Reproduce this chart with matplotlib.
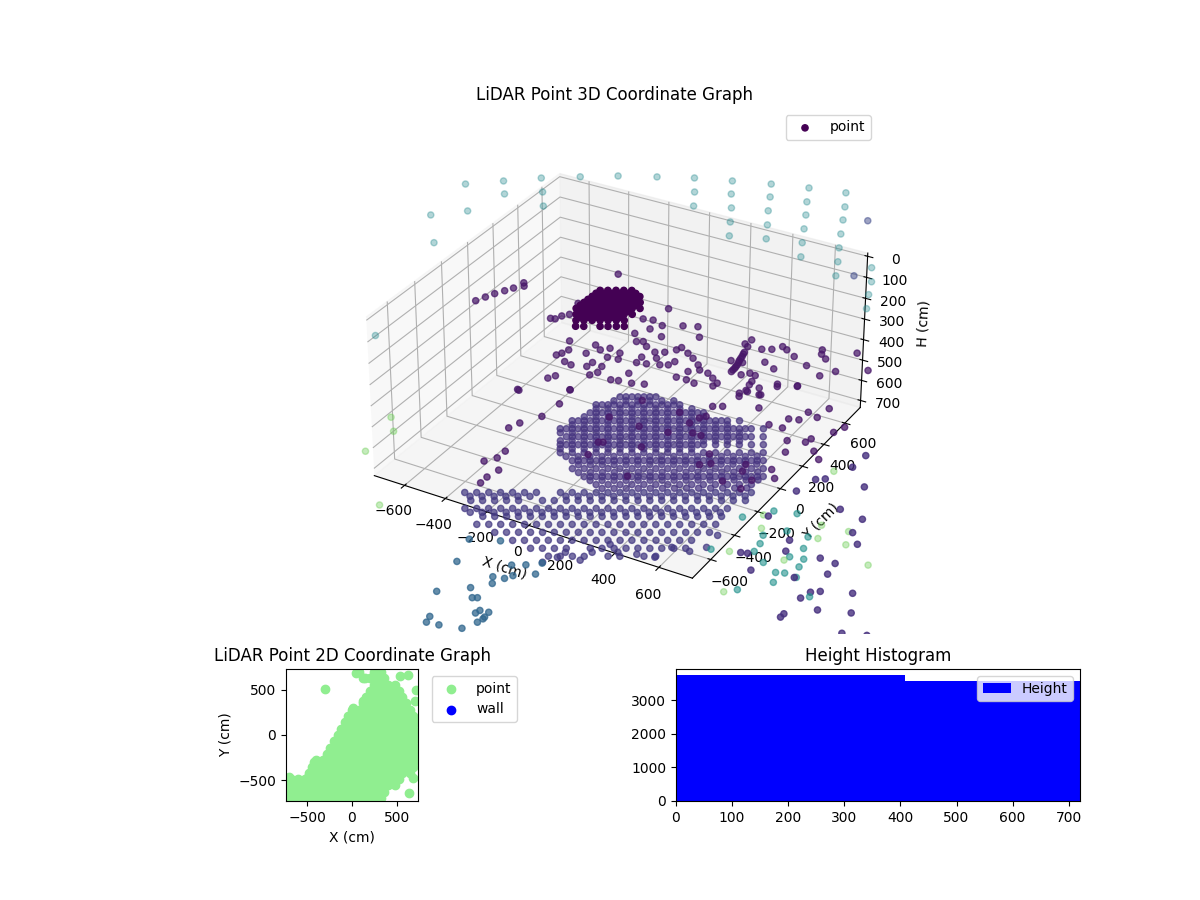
import numpy as np
import matplotlib
matplotlib.use("Agg")
import matplotlib.pyplot as plt

# --- 3D LiDAR points, (x, y) in cm, one list per group of similar height / tone
cluster_xy = [(-346,417),(-318,433),(-289,450),(-261,466),(-232,482),
 (-348,356),(-320,372),(-291,388),(-263,405),(-234,421),(-206,437),(-177,453),
 (-351,295),(-322,312),(-294,328),(-265,344),(-237,361),(-208,377),(-180,393),(-151,410),
 (-353,235),(-325,251),(-296,268),(-268,284),(-240,300),(-211,317),(-183,333),(-154,349),(-126,365),
 (-328,192),(-300,208),(-271,225),(-243,241),(-215,257),(-186,274),(-158,290),(-129,306),
 (-302,148),(-274,164),(-245,181),(-217,197),(-189,213),(-160,230),(-132,246),
 (-278,105),(-249,121),(-192,154),(-164,170),(-135,187),(-107,203),
 (-348,387),(-319,403),(-291,419),(-262,436),(-234,452),(-205,468),
 (-350,325),(-322,342),(-293,358),(-265,374),(-236,391),(-208,407),(-179,423),
 (-352,265),(-324,281),(-295,298),(-267,314),(-239,330),(-210,347),(-182,363),(-153,379),
 (-327,221),(-299,238),(-270,254),(-241,270),(-213,286),(-184,303),(-156,319),
 (-301,178),(-273,194),(-244,211),(-216,227),(-188,243),(-159,260)]

scatter_xy = [(-487,810),(-150,650),(-797,541),(-889,304),(-871,352),(-853,397),(-830,440),(-810,479),(-780,516),(-536,331),(-517,337),(-506,372),(-485,400),(-503,500),(-26,551),(31,576),(79,501),(-102,510),(-59,427),(-132,460),(-199,520),(-158,532),(-168,396),(-104,354),(-128,340),(-72,325),(16,321),(-19,301),(48,362),(57,389),(102,361),(140,335),(89,274),(79,238),(49,221),(-2,201),(-42,190),(-46,239),(11,261),(184,298),(209,265),(174,231),(200,170),(155,168),(240,161),(250,259),(286,234),(320,208),(316,180),(348,541),(384,561),(412,603),(439,588),(490,554),(567,513),(565,660),(578,627),(610,600),(700,707),(690,529),(650,466),(609,350),(533,322),(464,423),(408,453),(800,602),(-369,207),(-356,80),(-344,104),(-334,141),(-258,153),(-259,231),(-222,206),(-194,237),(-139,223),(-120,176),(-166,168),(-299,51),(-263,41),(-197,101),(-201,62),(-148,92),(-138,42),(-156,9),(-289,-97),(-272,-66),(-339,-237),(-163,-132),(-63,18),(-33,28),(-26,99),(23,36),(71,55),(326,318),(325,333),(325,348),(323,362),(321,377),(317,397),(312,412),(309,430),(306,448),(301,468),(298,483),(288,531),(276,589),(268,546),(283,396),(331,405),(372,315),(397,344),(424,338),(434,290),(438,261),(447,215),(434,183),(484,258),(514,214)]

scatter2_xy = [(-347,-234),(-165,-132),(-144,-247),(-154,-364),(-221,-503),(-203,-450),(78,-236),(214,-238),(127,-60),(334,-221),(298,-367),(148,-518),(136,-420),(152,-411),(420,-177),(457,-178),(405,-41),(388,-65),(373,-118),(300,-66),(391,39),(425,59),(445,160),(456,210),(508,211),(541,305),(610,346),(555,120),(648,27),(705,31),(695,104),(733,118),(739,188),(787,170),(798,254),(893,101),(913,157),(831,-19),(839,14),(889,-62),(932,-107),(797,-123),(764,-44),(554,-368),(550,-281),(588,-339),(707,-278),(718,-327),(809,-261),(848,-312),(779,-367),(686,-428),(771,-440),(357,-577),(-90,-785),(-142,-713),(-141,-656),(-173,-758),(-101,-896),(-102,-849)]

scatter_outer_xy = [(960,-350),(986,-241),(1016,-219),(1069,-92),(1076,9),(1169,-196),(1159,-381),(1260,-401),(948,-556),(1090,-661),(1111,-732),(1240,-710),(1302,-714),(1268,-500),(1317,-561),(1309,-789),(1058,-904),(1335,-900),(1307,-922),(1293,-972),(1440,-853),(1378,-1008),(1489,-965),(1286,-1088),(1285,-1112),(1515,-1092),(1463,-1156),(1596,-1060),(1215,-868),(973,-822),(997,-814)]

dome_xy = [(-182,298),(-139,323),(-96,348),(-53,373),(-161,311),(-118,336),(-75,360),(-188,258),(-145,283),(-102,307),(-59,332),(-16,357),(27,382),(-236,193),(-193,218),(-150,242),(-107,267),(-64,292),(-22,316),(21,341),(64,366),(-214,205),(-171,230),(-129,255),(-86,279),(-43,304),(0,329),(43,353),(-219,165),(-177,190),(-134,215),(-91,239),(-49,264),(-6,288),(37,313),(80,338),(123,363),(-203,138),(-160,162),(-118,187),(-75,211),(-33,236),(10,261),(52,285),(95,310),(138,334),(180,359),(-224,125),(-182,150),(-139,175),(-97,199),(-54,224),(-11,248),(31,273),(74,298),(116,322),(159,347),(-229,86),(-187,110),(-144,135),(-102,159),(-59,184),(-17,208),(25,233),(68,257),(110,282),(153,306),(195,331),(-256,34),(-213,59),(-171,83),(-128,107),(-86,132),(-44,156),(-1,181),(41,205),(83,230),(126,254),(168,279),(211,303),(253,328),(295,352),(338,377),(-234,46),(-192,71),(-150,95),(-107,120),(-65,144),(-23,169),(20,193),(62,218),(105,242),(147,267),(189,291),(232,315),(274,340),(-239,7),(-197,31),(-155,56),(-113,80),(-70,105),(-28,129),(14,153),(56,178),(99,202),(141,227),(183,251),(226,276),(268,300),(310,324),(-266,-44),(-223,-20),(-181,4),(-139,29),(-97,53),(-55,78),(-12,102),(30,126),(72,151),(114,175),(156,199),(198,224),(241,248),(283,272),(325,297),(367,321),(409,345),(452,370),(-244,-32),(-202,-8),(-160,17),(-118,41),(-76,65),(-34,90),(9,114),(51,138),(93,163),(135,187),(177,211),(220,236),(262,260),(304,285),(346,309),(388,333),(-249,-71),(-207,-47),(-165,-22),(-123,2),(-81,26),(-39,51),(3,75),(45,99),(87,123),(129,148),(171,172),(213,196),(256,221),(298,245),(340,269),(382,293),(-191,-73),(-149,-49),(-107,-25),(-65,-1),(-23,24),(19,48),(60,72),(102,96),(144,121),(186,145),(228,169),(270,193),(312,218),(354,242),(396,266),(438,290),(480,314),(-212,-85),(-170,-61),(-128,-37),(-86,-13),(-44,11),(-2,36),(40,60),(81,84),(123,108),(165,133),(207,157),(249,181),(291,205),(333,230),(375,254),(417,278),(-217,-124),(-176,-100),(-134,-76),(-92,-52),(-50,-27),(-8,-3),(34,21),(76,45),(118,69),(160,94),(201,118),(243,142),(285,166),(327,190),(369,214),(411,239),(-202,-150),(-160,-126),(-118,-102),(-76,-78),(-34,-54),(7,-30),(49,-6),(91,18),(133,43),(175,67),(216,91),(258,115),(300,139),(342,163),(383,187),(425,211),(467,236),(509,260),(-181,-138),(-139,-114),(-97,-90),(-55,-66),(-13,-42),(28,-18),(70,6),(112,31),(154,55),(195,79),(237,103),(279,127),(-186,-177),(-144,-153),(-102,-129),(-61,-104),(-19,-80),(23,-56),(64,-32),(106,-8),(148,16),(190,40),(231,64),(273,88),(-170,-203),(-128,-179),(-87,-155),(-45,-131),(-4,-107),(38,-83),(80,-59),(121,-35),(163,-11),(204,13),(246,37),(288,61),(329,85),(371,109),(412,133),(454,157),(496,181),(537,205),(-97,-231),(-56,-207),(-14,-183),(27,-159),(68,-135),(110,-111),(151,-87),(193,-63),(234,-40),(275,-16),(317,8),(358,32),(400,56),(441,80),(482,104),(524,128),(565,152),(-77,-219),(-35,-195),(6,-171),(48,-147),(89,-123),(130,-99),(172,-75),(213,-51),(255,-28),(296,-4),(337,20),(379,44),(420,68),(462,92),(503,116),(544,140),(-66,-282),(-25,-258),(16,-235),(57,-211),(98,-187),(140,-163),(181,-140),(222,-116),(263,-92),(304,-68),(346,-44),(387,-21),(428,3),(469,27),(510,51),(552,75),(593,98),(5,-310),(46,-286),(87,-262),(128,-239),(169,-215),(210,-191),(251,-168),(292,-144),(333,-120),(374,-96),(415,-73),(456,-49),(497,-25),(538,-2),(579,22),(620,46),(26,-298),(67,-274),(108,-250),(149,-227),(190,-203),(231,-179),(272,-156),(313,-132),(354,-108),(395,-85),(436,-61),(477,-37),(518,-14),(559,10),(600,34),(76,-337),(117,-313),(158,-290),(198,-266),(239,-242),(280,-219),(321,-195),(362,-172),(403,-148),(443,-125),(484,-101),(525,-77),(566,-54),(607,-30),
 (-135,-216),(-93,-192),(-52,-168),(-10,-144),(31,-120),(73,-96),(114,-72),(156,-48),(197,-24),(239,0),(280,24),(322,48),(363,72),(405,96),(446,120),(488,144),(529,168),
 (-60,-245),(-19,-221),(22,-197),(63,-173),(104,-149),(145,-125),(186,-101),(227,-77),(268,-53),(309,-29),(350,-5),(391,19),(432,43),(473,67),(514,91),(555,115),
 (-30,-295),(11,-271),(52,-247),(93,-223),(134,-199),(175,-175),(216,-151),(257,-127),(298,-103),(339,-79),(380,-55),(421,-31),(462,-7),(503,17),(544,41),(585,65),
 (40,-323),(81,-299),(122,-275),(163,-251),(204,-227),(245,-203),(286,-179),(327,-155),(368,-131),(409,-107),(450,-83),(491,-59),(532,-35),(573,-11),(614,13),
 (111,-350),(152,-326),(193,-302),(234,-278),(275,-254),(316,-230),(357,-206),(398,-182),(439,-158),(480,-134),(521,-110),(562,-86),(603,-62)]

band_xy = [(-342,-645),(-301,-622),(-260,-598),(-220,-575),(-179,-551),(-138,-528),(-98,-504),(-16,-457),(24,-434),(65,-411),(106,-387),(146,-364),(187,-340),(228,-317),(268,-293),(309,-270),(349,-246),(390,-223),(431,-199),(471,-176),(512,-152),(553,-129),(593,-105),(634,-82),(-290,-682),(-250,-659),(-209,-636),(-169,-612),(-128,-589),(-47,-542),(-7,-519),(34,-495),(74,-472),(115,-449),(155,-425),(196,-402),(236,-379),(277,-355),(317,-332),(357,-308),(398,-285),(438,-262),(479,-238),(519,-215),(560,-192),(600,-168),(641,-145),(-279,-742),(-239,-719),(-199,-696),(-158,-672),(-118,-649),(-78,-626),(-37,-603),(3,-579),(43,-556),(83,-533),(124,-510),(164,-486),(204,-463),(245,-440),(285,-417),(325,-393),(365,-370),(406,-347),(446,-324),(486,-300),(527,-277),(567,-254),(607,-231),(-188,-755),(-148,-732),(-108,-709),(-68,-686),(-28,-663),(12,-640),(52,-616),(92,-593),(133,-570),(173,-547),(213,-524),(253,-501),(293,-477),(333,-454),(373,-431),(413,-408),(453,-385),(494,-362),(534,-339),(574,-315),(614,-292),(-178,-814),(-138,-791),(-98,-768),(-58,-745),(-18,-722),(22,-699),(62,-676),(102,-653),(141,-630),(181,-607),(221,-584),(261,-561),(301,-538),(341,-515),(381,-492),(421,-469),(461,-446),(501,-423),(541,-399),(581,-376),(621,-353),(-88,-827),(-49,-804),(-9,-781),(31,-758),(71,-735),(110,-712),(150,-689),(190,-666),(230,-644),(269,-621),(309,-598),(349,-575),(389,-552),(428,-529),(468,-506),(508,-483),(548,-460),(587,-437),(627,-414),(1,-840),(40,-817),(80,-794),(119,-771),(159,-748),(198,-725),(238,-703),(278,-680),(317,-657),(357,-634),(396,-611),(436,-588),(476,-565),(515,-543),(555,-520),(594,-497),(89,-852),(128,-829),(168,-807),(207,-784),(286,-738),(325,-716),(365,-693),(404,-670),(443,-647),(483,-625),(522,-602),(562,-579),(601,-556),(176,-864),(215,-842),(255,-819),(294,-797),(372,-751),(411,-729),(490,-683),(529,-661),(178,-910),(209,-853),(218,-809),(294,-827),(306,-758),(338,-677),(391,-709),(460,-685),(529,-668),(552,-577),(624,-567),(667,-511),(664,-417),
 (17,-470),(58,-446),(98,-423),(139,-399),(179,-376),(220,-352),(260,-329),(301,-305),(341,-282),(382,-258),(422,-235),(463,-211),(503,-188),(544,-164),(584,-141),(625,-117),
 (157,-523),(197,-500),(237,-477),(277,-454),(317,-431),(357,-408),(397,-385),(437,-362),(477,-339),(517,-316),(557,-293),(597,-270),
 (-309,-658),(-268,-635),(-227,-611),(-187,-588),(-146,-564),(-105,-541),
 (-246,-755),(-206,-732),(-166,-709),(-125,-685),(-85,-662),(-45,-639),(-4,-616),(36,-592),(76,-569),(116,-546)]

slate_xy = [(110,-1387),(151,-1583),(243,-1503),(282,-1553),(298,-1544),(215,-1725),(224,-1760),(271,-1752),(352,-1729),(379,-1671),(343,-1627),(348,-1606),(384,-1632),(381,-1600),(385,-1644),(296,-1442),(275,-1405),(317,-1393),(334,-1363),(294,-1308),(338,-1281),(399,-1314),(175,-1194),(70,-1242),(383,-1242)]

teal_low_xy = [(1142,-873),(1172,-860),(1164,-933),(1074,-1038),(1074,-838),(1007,-735),(991,-680),(1159,-684),(1139,-608),(1140,-758),(1199,-799),(1191,-746),(1221,-864),(1054,-611),(950,-515),(1033,-488),(1012,-791),(869,-857),(868,-610),(1317,-949)]

green_xy = [(1038,-1074),(934,-836),(1132,-787),(1175,-599),(1147,-513),(1282,-585),(1252,-501),(1410,-664),(964,-642),(929,-558),(1020,-154),(-345,-1215),(-664,-666),(-596,-749),(-607,-926)]

ceiling_xy = [(-829,163),(-710,264),(-591,364),(-459,453),(-329,537),(-187,609),(-50,677),(97,730),(247,784),(396,829),(545,864),(-799,-139),(-691,-36),(-644,166),(-520,258),(12,565),(149,623),(297,678),(445,713),(597,749),(-657,-332),(-452,152),(69,453),(208,514),(347,565),(494,607),(641,642),(262,403),(401,454),(542,496),(687,529),(315,296),(452,346),(589,387),(733,420),(638,279),(780,314),(824,207),(914,335),(963,232),(998,134),(1039,31),(-438,-1058)]
ceiling_blue_xy = [(729,685),(884,242)]

# lists above were read against a +/-720 cm frame; the plotted frame is +/-750 cm
frame_ratio = 750 / 720

# heights (cm), colour values and opacities per group
height_cluster, height_scatter, height_floor, height_ceiling = 315, 465, 735, -185
tone_cluster, tone_scatter, tone_outer, tone_dome, tone_band = 0.0, 0.06, 0.14, 0.15, 0.17
tone_slate, tone_teal, tone_green, tone_ceiling, tone_ceiling_blue = 0.33, 0.5, 0.78, 0.47, 0.22

# --- 2D panel: rows of (y, x values)
floor_rows = [
 (-700,[-720,-640,-560,-480,-400,-320,-240,-160,-80,0,80,160,240,320]),
 (-630,[-680,-600,-520,-440,-360,-280,-200,-120,-40,40,120,200,280,360]),
 (-560,[-720,-640,-560,-480,-400,-320,-240,-160,-80,0,80,160,240,320,400,480]),
 (-490,[-680,-600,-520,-440,-360,-280,-200,-120,-40,40,120,200,280,360,440,520]),
 (-420,[-480,-400,-320,-240,-160,-80,0,80,160,240,320,400,480,560,640]),
 (-350,[-440,-360,-280,-200,-120,-40,40,120,200,280,360,440,520,600,680]),
 (-280,[-400,-320,-240,-160,-80,0,80,160,240,320,400,480,560,640,720]),
 (-210,[-280,-200,-120,-40,40,120,200,280,360,440,520,600,680]),
 (-140,[-240,-160,-80,0,80,160,240,320,400,480,560,640,720]),
 (-70,[-200,-120,-40,40,120,200,280,360,440,520,600,680]),
 (0,[-160,-80,0,80,160,240,320,400,480,560,640,720]),
 (70,[-120,-40,40,120,200,280,360,440,520,600,680]),
 (140,[-80,0,80,160,240,320,400,480,560,640,720]),
 (210,[-40,40,120,200,280,360,440,520,600,680]),
 (280,[0,80,160,240,320,400,480,560,640]),
 (350,[120,200,280,360,440,520,600]),
 (420,[160,240,320,400,480,560]),
 (490,[200,280,360,440,520]),
 (560,[240,320,400,480]),
 (630,[120,200,280,360]),
 (700,[80,240,320]),
]
floor_extra_x = [-295,706,695,632,677,46,139,269,529,621,-696,-473,-417,9,120]
floor_extra_y = [510,503,373,-640,-480,688,633,688,651,670,-462,-443,-295,299,373]

# --- histogram
hist_edges = [0, 408, 720]
hist_counts = [3750, 3570]

groups = [
 (cluster_xy, height_cluster, tone_cluster, 1.0),
 (scatter_xy, height_scatter, tone_scatter, 0.72),
 (scatter2_xy, height_scatter, tone_scatter, 0.75),
 (scatter_outer_xy, height_scatter, tone_outer, 0.8),
 (dome_xy, height_floor, tone_dome, 0.7),
 (band_xy, height_floor, tone_band, 0.72),
 (slate_xy, height_scatter, tone_slate, 0.75),
 (teal_low_xy, height_scatter, tone_teal, 0.6),
 (green_xy, height_scatter, tone_green, 0.4),
 (ceiling_xy, height_ceiling, tone_ceiling, 0.35),
 (ceiling_blue_xy, height_ceiling, tone_ceiling_blue, 0.5),
]
xs, ys, zs, colors = [], [], [], []
for pts, h, t, a in groups:
    rgba = plt.cm.viridis(t, alpha=a)
    for px, py in pts:
        xs.append(px * frame_ratio); ys.append(py * frame_ratio); zs.append(h); colors.append(rgba)

fig = plt.figure(figsize=(12, 9), dpi=100)

ax3 = fig.add_axes([0.125, 1 - 634/900, 0.775, 526/900], projection='3d')
ax3.scatter(xs, ys, zs, c=colors, depthshade=False, label='point')
ax3.set_xlim(-750, 750)
ax3.set_ylim(-750, 750)
ax3.set_zlim(735, -15)
ax3.set_box_aspect((1, 1, 0.5))
ax3.set_xlabel('X (cm)')
ax3.set_ylabel('Y (cm)')
ax3.set_zlabel('H (cm)')
ax3.set_title('LiDAR Point 3D Coordinate Graph')
ax3.legend(loc='upper right')

ax2 = fig.add_axes([150/1200, 99/900, 404/1200, 132/900])
fx, fy = [], []
for ry, rx in floor_rows:
    for v in rx:
        fx.append(v); fy.append(ry)
fx += floor_extra_x
fy += floor_extra_y
ax2.scatter(fx, fy, s=36, color='lightgreen', label='point')
ax2.scatter([], [], s=36, color='blue', label='wall')
ax2.set_xlim(-733, 733)
ax2.set_ylim(-733, 733)
ax2.set_aspect('equal')
ax2.set_xlabel('X (cm)')
ax2.set_ylabel('Y (cm)')
ax2.set_title('LiDAR Point 2D Coordinate Graph')
ax2.legend(loc='upper left', bbox_to_anchor=(1.05, 1))

ax1 = fig.add_axes([676/1200, 99/900, 404/1200, 132/900])
ax1.stairs(hist_counts, hist_edges, fill=True, color='blue', label='Height')
ax1.set_xlim(0, 720)
ax1.set_ylim(0, 3937)
ax1.set_title('Height Histogram')
ax1.legend(loc='upper right')

fig.savefig('out.png', dpi=100)
